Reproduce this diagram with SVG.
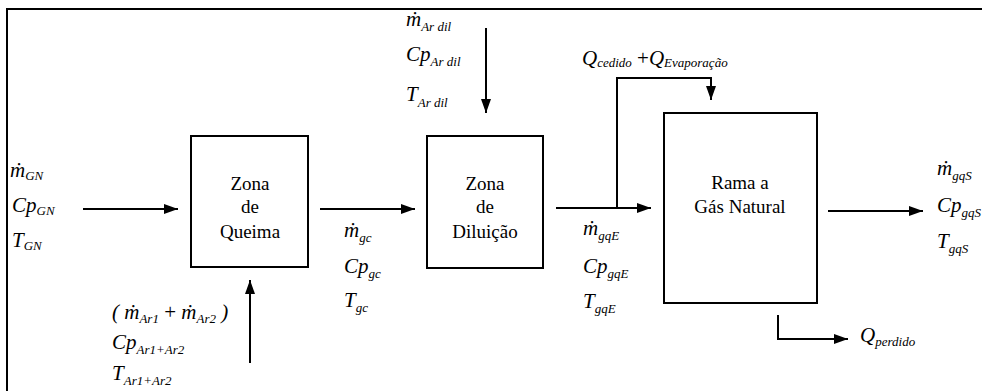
<svg xmlns="http://www.w3.org/2000/svg" width="982" height="391" viewBox="0 0 982 391">
<defs>
<marker id="ah" viewBox="0 0 14 10" refX="14" refY="5" markerWidth="14" markerHeight="10" markerUnits="userSpaceOnUse" orient="auto">
<path d="M0,0 L14,5 L0,10 Z" fill="#000"/>
</marker>
</defs>
<style>
.box{fill:#fff;stroke:#000;stroke-width:2}
.ln{fill:none;stroke:#000;stroke-width:2}
.arr{fill:none;stroke:#000;stroke-width:2;marker-end:url(#ah)}
text{font-family:'Liberation Serif','Times New Roman',serif;fill:#000}
.lbl{font-size:19px;text-anchor:middle}
.m{font-style:italic;font-size:21px}
.s{font-size:13px}
.u{font-style:normal}
</style>
<rect width="982" height="391" fill="#fff"/>
<path class="ln" d="M7,395 V9 H990"/>
<g id="connectors">
<line class="arr" x1="83" y1="209" x2="178" y2="209"/>
<line class="arr" x1="320" y1="209" x2="415" y2="209"/>
<line class="arr" x1="556" y1="208" x2="651" y2="208"/>
<line class="arr" x1="828" y1="211" x2="923" y2="211"/>
<line class="arr" x1="486" y1="28" x2="486" y2="113"/>
<line class="arr" x1="250" y1="363" x2="250" y2="280"/>
<path class="arr" d="M617,208 V78 H711 V100"/>
<path class="arr" d="M778,315 V339 H848"/>
</g>
<g id="zona-queima">
<rect class="box" x="191" y="136" width="117" height="131"/>
<text class="lbl" x="250" y="190">Zona</text>
<text class="lbl" x="250" y="213">de</text>
<text class="lbl" x="250" y="238">Queima</text>
</g>
<g id="zona-diluicao">
<rect class="box" x="427" y="136" width="116" height="132"/>
<text class="lbl" x="485" y="190">Zona</text>
<text class="lbl" x="485" y="213">de</text>
<text class="lbl" x="485" y="238">Diluição</text>
</g>
<g id="rama">
<rect class="box" x="664" y="113" width="153" height="190"/>
<text class="lbl" x="740" y="189">Rama a</text>
<text class="lbl" x="740" y="213">Gás Natural</text>
</g>
<g id="in-gn">
<text class="m" x="10" y="177">ṁ<tspan class="s" dy="3">GN</tspan></text>
<text class="m" x="12" y="212">Cp<tspan class="s" dy="3">GN</tspan></text>
<text class="m" x="12" y="247">T<tspan class="s" dy="3">GN</tspan></text>
</g>
<g id="in-ar">
<text class="m" x="112" y="319">( ṁ<tspan class="s" dy="4">Ar1</tspan><tspan dy="-4" class="u"> + </tspan>ṁ<tspan class="s" dy="4">Ar2</tspan><tspan dy="-4"> )</tspan></text>
<text class="m" x="112" y="349">Cp<tspan class="s" dy="5">Ar1+Ar2</tspan></text>
<text class="m" x="112" y="380">T<tspan class="s" dy="5">Ar1+Ar2</tspan></text>
</g>
<g id="gc">
<text class="m" x="344" y="237">ṁ<tspan class="s" dy="5">gc</tspan></text>
<text class="m" x="344" y="273">Cp<tspan class="s" dy="5">gc</tspan></text>
<text class="m" x="344" y="307">T<tspan class="s" dy="5">gc</tspan></text>
</g>
<g id="ar-dil">
<text class="m" x="406" y="26">ṁ<tspan class="s" dy="5">Ar dil</tspan></text>
<text class="m" x="406" y="61">Cp<tspan class="s" dy="5">Ar dil</tspan></text>
<text class="m" x="406" y="101">T<tspan class="s" dy="6">Ar dil</tspan></text>
</g>
<g id="gqE">
<text class="m" x="583" y="235">ṁ<tspan class="s" dy="5">gqE</tspan></text>
<text class="m" x="583" y="273">Cp<tspan class="s" dy="5">gqE</tspan></text>
<text class="m" x="583" y="308">T<tspan class="s" dy="5">gqE</tspan></text>
</g>
<g id="gqS">
<text class="m" x="937" y="175">ṁ<tspan class="s" dy="5">gqS</tspan></text>
<text class="m" x="937" y="212">Cp<tspan class="s" dy="5">gqS</tspan></text>
<text class="m" x="937" y="248">T<tspan class="s" dy="5">gqS</tspan></text>
</g>
<g id="q-ced">
<text class="m" x="582" y="65">Q<tspan class="s" dy="2">cedido</tspan><tspan class="u" dy="-2"> +</tspan>Q<tspan class="s" dy="2">Evaporação</tspan></text>
</g>
<g id="q-perd">
<text class="m" x="860" y="342">Q<tspan class="s" dy="4">perdido</tspan></text>
</g>
</svg>
